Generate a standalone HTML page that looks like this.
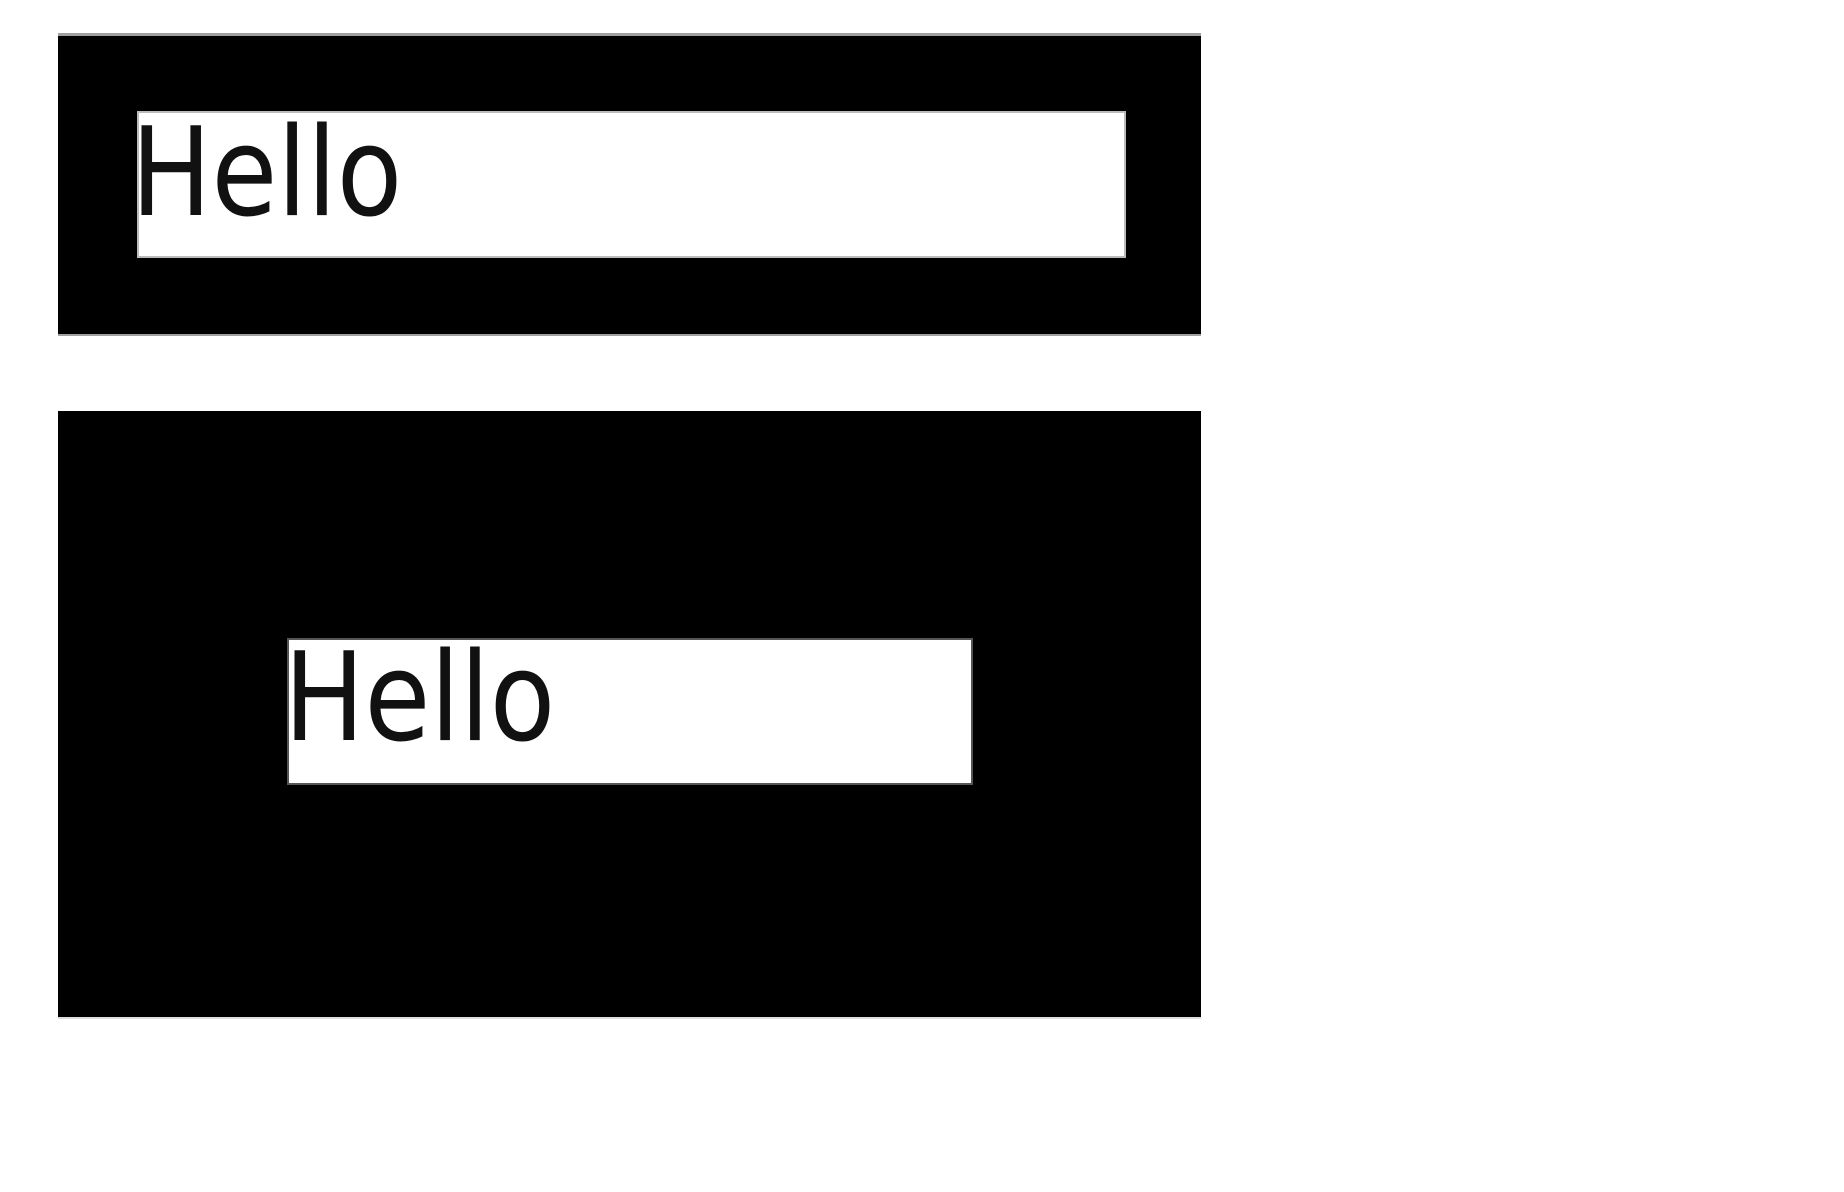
<!DOCTYPE html>
<html><head><style>
html,body{margin:0;padding:0;background:#fff;width:1844px;height:1192px;overflow:hidden}
.o{position:absolute;background:#000;box-sizing:border-box}
.i{position:absolute;background:#fff;box-sizing:border-box;border:2px solid #555}
.t{position:absolute;font-family:"DejaVu Sans","Liberation Sans",sans-serif;font-size:123px;line-height:1;color:#111;transform-origin:0 0;transform:scaleX(0.87);white-space:nowrap}
</style></head><body>
<div class="o" style="left:58px;top:33px;width:1143px;height:303px;border-top:3px solid #a0a0a0;border-bottom:2px solid #a0a0a0"></div>
<div class="i" style="left:137px;top:111px;width:989px;height:147px;border-color:#bbb"></div>
<div class="t" style="left:131px;top:112px">Hello</div>
<div class="o" style="left:58px;top:411px;width:1143px;height:608px;border-bottom:2px solid #ddd"></div>
<div class="i" style="left:287px;top:638px;width:686px;height:147px"></div>
<div class="t" style="left:284px;top:637px">Hello</div>
</body></html>
